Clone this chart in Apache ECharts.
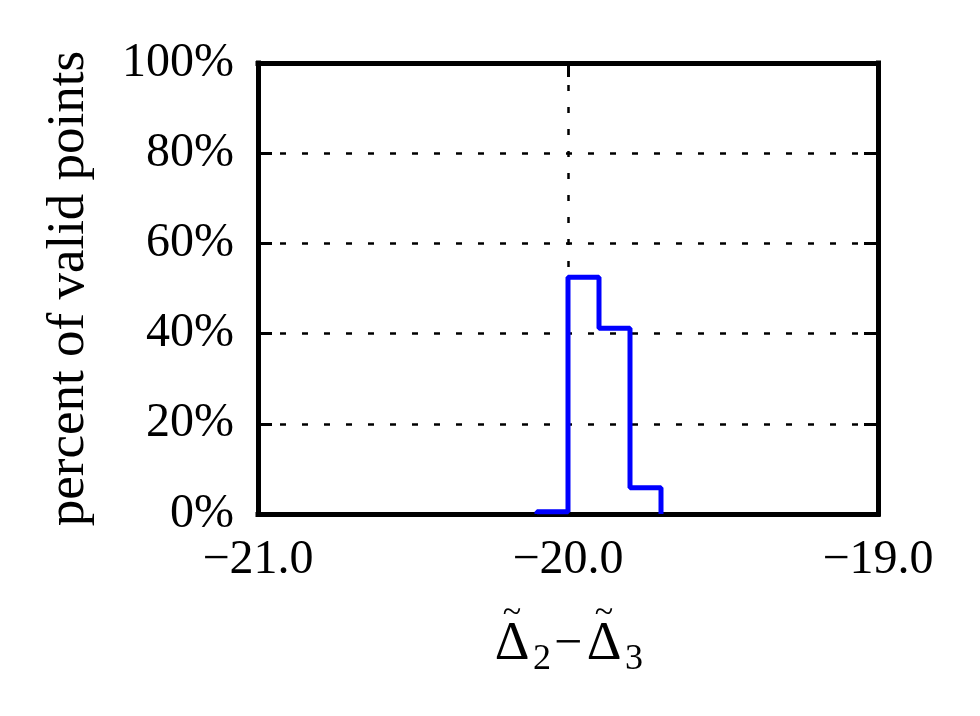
<!DOCTYPE html>
<html>
<head>
<meta charset="utf-8">
<script src="https://cdn.jsdelivr.net/npm/echarts@6/dist/echarts.min.js"></script>
<style>
  html, body { margin: 0; padding: 0; background: #fff; }
  #main { width: 980px; height: 716px; }
</style>
</head>
<body>
<div id="main"></div>
<script>
// histogram bins (left edges) and percent of valid points in each bin
const binEdges = [-20.1, -20.0, -19.9, -19.8, -19.7];
const binPercent = [0.5, 52.5, 41.2, 5.8];
const xTicks = [-21.0, -20.0, -19.0];
const yTicks = [0, 20, 40, 60, 80, 100];

// step outline: up at first edge, flat across each bin, down at last edge
const stepData = [[binEdges[0], 0]];
binPercent.forEach(function (p, i) { stepData.push([binEdges[i], p]); });
stepData.push([binEdges[binEdges.length - 1], 0]);

const font = 'Liberation Serif';
function gridLine() { return { show: true, lineStyle: { color: '#000', width: 2.5, type: [6, 16] } }; }
function frameLine() { return { show: true, onZero: false, lineStyle: { color: '#000', width: 5, cap: 'square' } }; }
function tickIn() { return { show: true, inside: true, length: 14, lineStyle: { color: '#000', width: 3 } }; }

const chart = echarts.init(document.getElementById('main'));
chart.setOption({
    animation: false,
    backgroundColor: '#fff',
    grid: { left: 258, top: 63, width: 620, height: 451 },
    xAxis: [
        {
            type: 'value', min: xTicks[0], max: xTicks[xTicks.length - 1], interval: 1,
            axisLine: frameLine(), axisTick: tickIn(), splitLine: gridLine(),
            axisLabel: {
                color: '#000', fontFamily: font, fontSize: 48, margin: 22,
                formatter: function (v) { return (v < 0 ? '\u2212' : '') + Math.abs(v).toFixed(1); }
            },
            // tildes on the first line, sitting above each Delta on the second line
            name: '{t|~}{g1|}{t|~}{g2|}\n{d|\u0394}{s|2}{m|\u2212}{d|\u0394}{s|3}',
            nameLocation: 'middle', nameGap: 92,
            nameTextStyle: {
                rich: {
                    t: { fontFamily: font, fontSize: 34, color: '#000', width: 40, align: 'center', lineHeight: 14 },
                    g1: { width: 52 },
                    g2: { width: 20 },
                    d: { fontFamily: font, fontSize: 54, color: '#000', width: 40, align: 'center', lineHeight: 50 },
                    m: { fontFamily: font, fontSize: 50, color: '#000', width: 32, align: 'center', lineHeight: 50 },
                    s: { fontFamily: font, fontSize: 36, color: '#000', width: 20, align: 'center', lineHeight: 50, padding: [30, 0, 0, 0] }
                }
            }
        },
        {
            type: 'value', position: 'top', min: xTicks[0], max: xTicks[xTicks.length - 1], interval: 1,
            axisLine: frameLine(), axisTick: tickIn(), axisLabel: { show: false }, splitLine: { show: false }
        }
    ],
    yAxis: [
        {
            type: 'value', min: yTicks[0], max: yTicks[yTicks.length - 1], interval: 20,
            axisLine: frameLine(), axisTick: tickIn(), splitLine: gridLine(),
            axisLabel: {
                color: '#000', fontFamily: font, fontSize: 48, margin: 24,
                formatter: function (v) { return v + '%'; }
            },
            name: 'percent of valid points',
            nameLocation: 'middle', nameGap: 162, nameRotate: 90,
            nameTextStyle: { color: '#000', fontFamily: font, fontSize: 53 }
        },
        {
            type: 'value', position: 'right', min: yTicks[0], max: yTicks[yTicks.length - 1], interval: 20,
            axisLine: frameLine(), axisTick: tickIn(), axisLabel: { show: false }, splitLine: { show: false }
        }
    ],
    series: [
        {
            type: 'line',
            step: 'end',
            data: stepData,
            showSymbol: false,
            lineStyle: { color: '#0000ff', width: 5 },
            z: 3
        }
    ]
});
</script>
</body>
</html>
